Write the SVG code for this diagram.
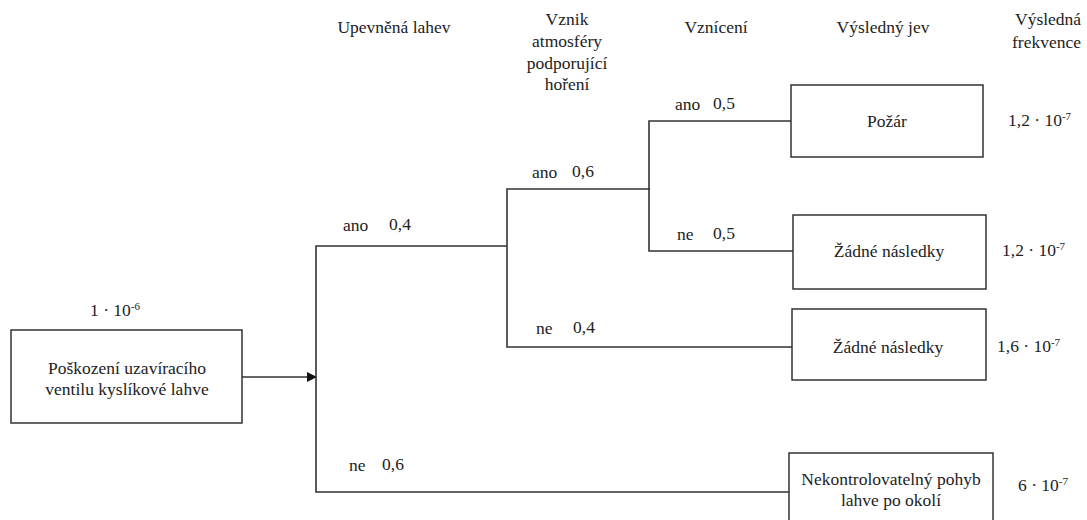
<svg xmlns="http://www.w3.org/2000/svg" width="1087" height="520" viewBox="0 0 1087 520" font-family="'Liberation Serif', 'Times New Roman', 'DejaVu Serif', serif">
<style>
text{font-family:'Liberation Serif','Times New Roman','DejaVu Serif',serif;fill:#222;font-size:17.5px}
.c{text-anchor:middle}
.n{font-size:17.5px}
.sup{font-size:11px}
.box{fill:#fff;stroke:#333;stroke-width:1.5}
.ln{fill:none;stroke:#333;stroke-width:1.6}
</style>
<defs>
<marker id="arr" markerWidth="10" markerHeight="10" refX="9" refY="5" orient="auto" markerUnits="userSpaceOnUse">
<path d="M0,0 L10,5 L0,10 Z" fill="#111"/>
</marker>
</defs>
<g id="headers">
<text class="c" x="394" y="33">Upevněná lahev</text>
<text class="c" x="567" y="25">Vznik</text>
<text class="c" x="567" y="47">atmosféry</text>
<text class="c" x="567" y="69">podporující</text>
<text class="c" x="567" y="90">hoření</text>
<text class="c" x="716" y="33">Vznícení</text>
<text class="c" x="883" y="33">Výsledný jev</text>
<text x="1015" y="25">Výsledná</text>
<text x="1012" y="48">frekvence</text>
</g>
<g id="connectors">
<line class="ln" x1="242" y1="377" x2="316" y2="377" marker-end="url(#arr)"/>
<polyline class="ln" points="507,246 316,246 316,492 790,492"/>
<polyline class="ln" points="650,189 507,189 507,347 792,347"/>
<polyline class="ln" points="791,121 649,121 649,251 793,251"/>
</g>
<g id="labels">
<text x="343" y="231">ano</text><text class="n" x="389" y="230">0,4</text>
<text x="532" y="178">ano</text><text class="n" x="572" y="177">0,6</text>
<text x="675" y="110">ano</text><text class="n" x="713" y="109">0,5</text>
<text x="677" y="240">ne</text><text class="n" x="713" y="239">0,5</text>
<text x="536" y="334">ne</text><text class="n" x="573" y="333">0,4</text>
<text x="349" y="471">ne</text><text class="n" x="382" y="470">0,6</text>
</g>
<g id="start">
<text class="n" x="90" y="316">1 · 10<tspan class="sup" dy="-6">-6</tspan></text>
<rect class="box" x="11" y="330" width="231" height="93"/>
<text class="c" x="127" y="374">Poškození uzavíracího</text>
<text class="c" x="127" y="395">ventilu kyslíkové lahve</text>
</g>
<g id="pozar">
<rect class="box" x="791" y="85" width="192" height="72"/>
<text class="c" x="887" y="127">Požár</text>
<text class="n" x="1008" y="126">1,2 · 10<tspan class="sup" dy="-6">-7</tspan></text>
</g>
<g id="zadne1">
<rect class="box" x="793" y="215" width="193" height="74"/>
<text class="c" x="889" y="257">Žádné následky</text>
<text class="n" x="1002" y="256">1,2 · 10<tspan class="sup" dy="-6">-7</tspan></text>
</g>
<g id="zadne2">
<rect class="box" x="792" y="309" width="194" height="71"/>
<text class="c" x="888" y="353">Žádné následky</text>
<text class="n" x="997" y="352">1,6 · 10<tspan class="sup" dy="-6">-7</tspan></text>
</g>
<g id="pohyb">
<rect class="box" x="789" y="453" width="204" height="80"/>
<text class="c" x="891" y="485">Nekontrolovatelný pohyb</text>
<text class="c" x="891" y="506">lahve po okolí</text>
<text class="n" x="1018" y="491">6 · 10<tspan class="sup" dy="-6">-7</tspan></text>
</g>
</svg>
